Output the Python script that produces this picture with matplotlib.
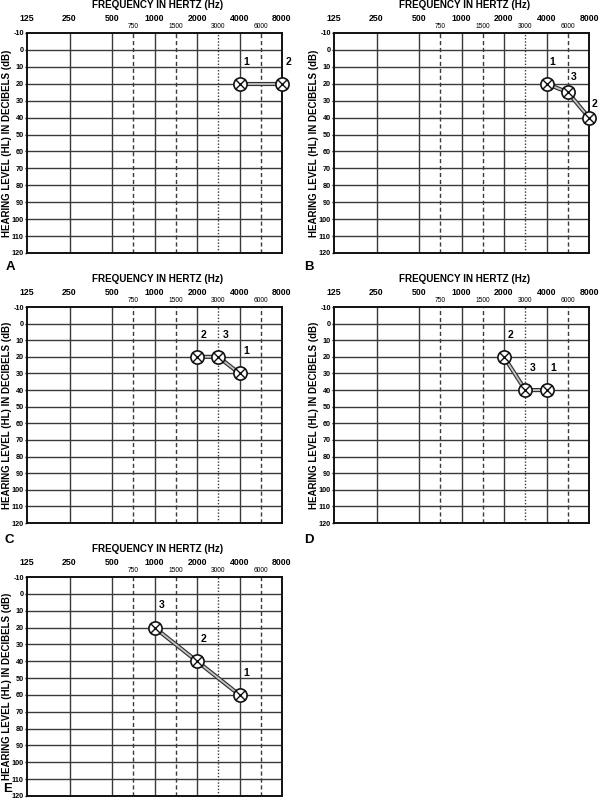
import numpy as np
import matplotlib
matplotlib.use('Agg')
import matplotlib.pyplot as plt

plt.rcParams['font.family'] = ['Liberation Sans', 'DejaVu Sans']

# audiogram frequencies
octave_freqs = [125, 250, 500, 1000, 2000, 4000, 8000]
half_freqs = [750, 1500, 3000, 6000]
half_styles = ['--', '--', ':', '--']
levels = list(range(-10, 121, 10))

# thresholds per panel: frequency (Hz), level (dB HL), test order
freq_A = [4000, 8000]
db_A = [20, 20]
order_A = [1, 2]

freq_B = [4000, 6000, 8000]
db_B = [20, 25, 40]
order_B = [1, 3, 2]

freq_C = [2000, 3000, 4000]
db_C = [20, 20, 30]
order_C = [2, 3, 1]

freq_D = [2000, 3000, 4000]
db_D = [20, 40, 40]
order_D = [2, 3, 1]

freq_E = [1000, 2000, 4000]
db_E = [20, 40, 60]
order_E = [3, 2, 1]

# audiogram x scale: octaves evenly spaced, half-octaves midway
scale_f = np.log2([125, 250, 500, 750, 1000, 1500, 2000, 3000, 4000, 6000, 8000])
scale_pos = [0, 1, 2, 2.5, 3, 3.5, 4, 4.5, 5, 5.5, 6]

def fwd(f):
    return np.interp(np.log2(np.clip(f, 1, None)), scale_f, scale_pos)

def inv(p):
    return 2.0 ** np.interp(p, scale_pos, scale_f)

W, H = 600, 800
fig = plt.figure(figsize=(6, 8), dpi=100)

def rect(x0, y_top, y_bot, w=255):
    return [x0 / W, 1 - y_bot / H, w / W, (y_bot - y_top) / H]

panels = [
    ('A', freq_A, db_A, order_A, rect(27, 33, 253), (10, 267)),
    ('B', freq_B, db_B, order_B, rect(334, 33, 253), (309, 267)),
    ('C', freq_C, db_C, order_C, rect(27, 307, 523), (9, 540)),
    ('D', freq_D, db_D, order_D, rect(334, 307, 523), (309, 540)),
    ('E', freq_E, db_E, order_E, rect(27, 577, 796), (8, 789)),
]
label_offsets = {'B': [(4, 16), (4, 11), (4, 10)]}

gc = '#3a3a3a'
for name, fr, db, order, r, letter_xy in panels:
    ax = fig.add_axes(r)
    ax.set_xscale('function', functions=(fwd, inv))
    ax.set_xlim(125, 8000)
    ax.set_ylim(120, -10)

    # grid
    for lv in levels[1:-1]:
        ax.axhline(lv, color=gc, lw=1.0, zorder=1)
    for f in octave_freqs[1:-1]:
        ax.axvline(f, color=gc, lw=1.0, zorder=1)
    for f, ls in zip(half_freqs, half_styles):
        ax.axvline(f, color=gc, lw=1.0, ls=ls, zorder=1,
                   dashes=(3, 2) if ls == '--' else (1, 1.3))

    for s in ax.spines.values():
        s.set_linewidth(1.4)
        s.set_color('#111111')

    # ticks
    ax.xaxis.tick_top()
    ax.set_xticks(octave_freqs)
    ax.set_xticklabels([str(f) for f in octave_freqs], fontsize=6.3, fontweight='bold')
    ax.set_xticks(half_freqs, minor=True)
    ax.set_xticklabels([str(f) for f in half_freqs], minor=True, fontsize=4.8)
    ax.tick_params(axis='x', which='major', length=0, pad=7)
    ax.tick_params(axis='x', which='minor', length=0, pad=2.5)
    ax.set_yticks(levels)
    ax.set_yticklabels([str(v) for v in levels], fontsize=5.2, fontweight='bold')
    ax.tick_params(axis='y', length=1.5, width=1.0, pad=0.8)

    ax.annotate('FREQUENCY IN HERTZ (Hz)', (0.5, 1), xycoords='axes fraction',
                xytext=(2, 20), textcoords='offset points', ha='center', va='center',
                fontsize=7.1, fontweight='bold')
    ax.annotate('HEARING LEVEL (HL) IN DECIBELS (dB)', (0, 0.5), xycoords='axes fraction',
                xytext=(-14.5, 0), textcoords='offset points', ha='center', va='center',
                rotation=90, fontsize=7.0, fontweight='bold')

    # thresholds joined by double line
    ax.plot(fr, db, color='#333333', lw=3.0, zorder=3, solid_capstyle='butt')
    ax.plot(fr, db, color='#c4c4c4', lw=1.3, zorder=4, solid_capstyle='butt')
    ax.plot(fr, db, 'o', ms=9.5, mfc='white', mec='#111111', mew=1.2, zorder=5, clip_on=False)
    ax.plot(fr, db, 'x', ms=6.5, mec='#111111', mew=1.0, zorder=6, clip_on=False)

    offs = label_offsets.get(name, [(5, 16)] * len(fr))
    for f, d, n, o in zip(fr, db, order, offs):
        ax.annotate(str(n), (f, d), xytext=o, textcoords='offset points',
                    ha='center', va='center', fontsize=7.5, fontweight='bold',
                    annotation_clip=False)

    fig.text(letter_xy[0] / W, 1 - letter_xy[1] / H, name, ha='center', va='center',
             fontsize=9.5, fontweight='bold')

fig.savefig('out.png', dpi=100)
